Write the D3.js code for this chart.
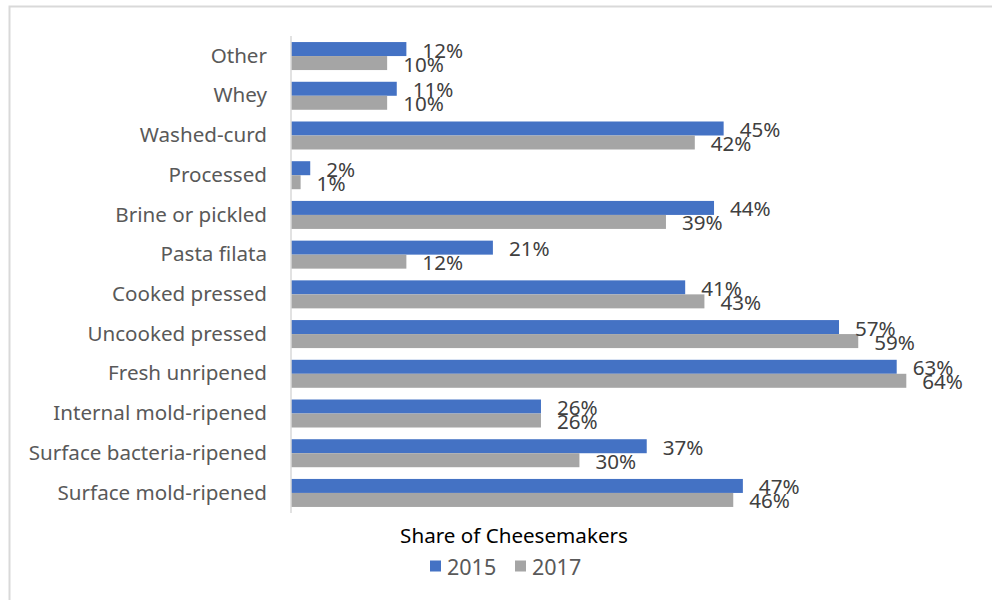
<!DOCTYPE html>
<html>
<head>
<meta charset="utf-8">
<script src="https://cdn.jsdelivr.net/npm/d3@7"></script>
<style>
  html, body { margin: 0; padding: 0; background: #fff; }
  svg { display: block; font-family: "Noto Sans", "Open Sans", sans-serif; }
</style>
</head>
<body>
<svg id="chart" width="992" height="600"></svg>
<script>
// Cheese types, listed top to bottom
const categories = [
  "Other", "Whey", "Washed-curd", "Processed", "Brine or pickled",
  "Pasta filata", "Cooked pressed", "Uncooked pressed", "Fresh unripened",
  "Internal mold-ripened", "Surface bacteria-ripened", "Surface mold-ripened"
];
const seriesNames = ["2015", "2017"];
const values2015 = [12, 11, 45, 2, 44, 21, 41, 57, 63, 26, 37, 47];
const values2017 = [10, 10, 42, 1, 39, 12, 43, 59, 64, 26, 30, 46];
const axisTitle = "Share of Cheesemakers";

const colors = { "2015": "#4472C4", "2017": "#A5A5A5" };

const rows = categories.map((c, i) => ({
  category: c,
  values: [
    { series: "2015", value: values2015[i] },
    { series: "2017", value: values2017[i] }
  ]
}));

const svg = d3.select("#chart");

// chart area frame
svg.append("rect")
  .attr("x", 9.5).attr("y", 6.5)
  .attr("width", 1000).attr("height", 700)
  .attr("fill", "none")
  .attr("stroke", "#d9d9d9")
  .attr("stroke-width", 2);

const x = d3.scaleLinear().domain([0, 70]).range([291, 964]);

const y = d3.scaleBand()
  .domain(categories)
  .range([36.2, 512.8])
  .paddingInner(0.295)
  .paddingOuter(0.1475);

const ySub = d3.scaleBand()
  .domain(seriesNames)
  .range([0, y.bandwidth()]);

// category axis (left)
const yAxis = d3.axisLeft(y).tickSize(0).tickPadding(24);
const gy = svg.append("g")
  .attr("transform", `translate(${x(0)},0)`)
  .call(yAxis);
gy.select(".domain").remove();
gy.selectAll("text")
  .attr("font-size", 20.6)
  .attr("fill", "#595959")
  .attr("font-family", "\"Noto Sans\", sans-serif");

// bar groups
const groups = svg.append("g")
  .selectAll("g")
  .data(rows)
  .join("g")
  .attr("transform", d => `translate(0,${y(d.category)})`);

groups.selectAll("rect")
  .data(d => d.values)
  .join("rect")
  .attr("x", x(0))
  .attr("y", d => ySub(d.series))
  .attr("width", d => x(d.value) - x(0))
  .attr("height", ySub.bandwidth())
  .attr("fill", d => colors[d.series]);

groups.selectAll("text.value")
  .data(d => d.values)
  .join("text")
  .attr("class", "value")
  .attr("x", d => x(d.value) + 16)
  .attr("y", d => ySub(d.series) + ySub.bandwidth() / 2 + 0.5)
  .attr("dominant-baseline", "central")
  .attr("font-size", 20.6)
  .attr("fill", "#404040")
  .text(d => d.value + "%");

// vertical axis line
svg.append("line")
  .attr("x1", x(0)).attr("x2", x(0))
  .attr("y1", 36).attr("y2", 513)
  .attr("stroke", "#d9d9d9")
  .attr("stroke-width", 1.5);

// axis title
svg.append("text")
  .attr("x", 514)
  .attr("y", 535)
  .attr("text-anchor", "middle")
  .attr("dominant-baseline", "central")
  .attr("font-size", 20.6)
  .attr("fill", "#000")
  .text(axisTitle);

// legend
const legendX = [430, 515];
const legend = svg.append("g")
  .selectAll("g")
  .data(seriesNames)
  .join("g")
  .attr("transform", (d, i) => `translate(${legendX[i]},566)`);

legend.append("rect")
  .attr("x", 0).attr("y", -5.5)
  .attr("width", 11).attr("height", 11)
  .attr("fill", d => colors[d]);

legend.append("text")
  .attr("x", 17)
  .attr("y", 0)
  .attr("dominant-baseline", "central")
  .attr("font-size", 21.5)
  .attr("fill", "#595959")
  .text(d => d);
</script>
</body>
</html>
